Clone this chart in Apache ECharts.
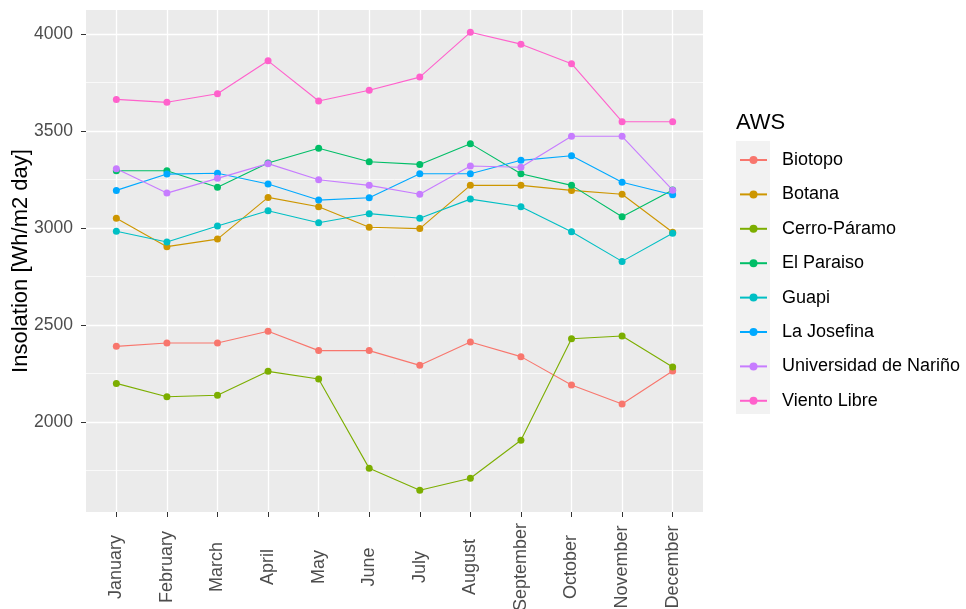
<!DOCTYPE html>
<html>
<head>
<meta charset="utf-8">
<script src="https://cdn.jsdelivr.net/npm/echarts@6/dist/echarts.min.js"></script>
<style>
  html, body { margin: 0; padding: 0; background: #fff; }
  #chart { width: 966px; height: 609px; }
</style>
</head>
<body>
<div id="chart"></div>
<script>
const months = ["January", "February", "March", "April", "May", "June",
  "July", "August", "September", "October", "November", "December"];

const stations = ["Biotopo", "Botana", "Cerro-Páramo", "El Paraiso", "Guapi",
  "La Josefina", "Universidad de Nariño", "Viento Libre"];

const biotopo = [2390, 2407, 2407, 2468, 2368, 2368, 2292, 2412, 2337, 2191, 2093, 2263];
const botana = [3050, 2904, 2943, 3158, 3110, 3004, 2997, 3220, 3220, 3194, 3174, 2978];
const cerroParamo = [2199, 2130, 2138, 2261, 2222, 1761, 1648, 1710, 1906, 2429, 2443, 2284];
const elParaiso = [3295, 3295, 3210, 3335, 3411, 3342, 3328, 3435, 3280, 3220, 3058, 3196];
const guapi = [2983, 2928, 3010, 3089, 3027, 3074, 3050, 3149, 3110, 2981, 2828, 2973];
const laJosefina = [3194, 3278, 3282, 3227, 3144, 3156, 3280, 3280, 3349, 3373, 3236, 3172];
const udenar = [3306, 3180, 3256, 3332, 3249, 3220, 3174, 3320, 3313, 3473, 3473, 3195];
const vientoLibre = [3663, 3648, 3692, 3862, 3655, 3710, 3778, 4009, 3948, 3847, 3548, 3548];

const yMajor = [2000, 2500, 3000, 3500, 4000];
const yMinor = [1750, 2250, 2750, 3250, 3750];

const seriesValues = [biotopo, botana, cerroParamo, elParaiso, guapi, laJosefina, udenar, vientoLibre];
const colors = ["#F8766D", "#CD9600", "#7CAE00", "#00BE67", "#00BFC4", "#00A9FF", "#C77CFF", "#FF61CC"];

const font = "Liberation Sans, Arial, sans-serif";
const monthIdx = months.map((m, i) => i);

const chart = echarts.init(document.getElementById("chart"), null, { renderer: "canvas" });

chart.setOption({
  animation: false,
  color: colors,
  textStyle: { fontFamily: font },
  title: {
    text: "AWS",
    left: 731,
    top: 107,
    textStyle: { fontFamily: font, fontSize: 22, fontWeight: "normal", color: "#000" }
  },
  graphic: [{
    type: "rect",
    left: 736,
    top: 141,
    shape: { width: 34, height: 273 },
    style: { fill: "#f2f2f2" },
    z: -1
  }],
  legend: {
    orient: "vertical",
    left: 734,
    top: 146,
    itemWidth: 27,
    itemHeight: 10,
    itemGap: 16.4,
    textStyle: { fontFamily: font, fontSize: 18, color: "#000", lineHeight: 18, padding: [0, 0, 0, 10] },
    data: stations
  },
  grid: {
    left: 86,
    top: 10,
    right: 263,
    bottom: 97,
    show: true,
    backgroundColor: "#ebebeb",
    borderWidth: 0,
    containLabel: false,
    outerBoundsMode: "none"
  },
  xAxis: {
    type: "value",
    min: -0.6,
    max: 11.6,
    axisLine: { show: false, onZero: false },
    axisTick: { show: true, length: 5, customValues: monthIdx, lineStyle: { color: "#333" } },
    axisLabel: {
      customValues: monthIdx,
      rotate: 90,
      align: "center",
      verticalAlign: "middle",
      margin: 55,
      color: "#4d4d4d",
      fontSize: 18,
      fontFamily: font,
      formatter: (v) => months[Math.round(v)]
    },
    splitLine: { show: true, lineStyle: { color: "#fff", width: 1.3 } }
  },
  yAxis: [{
    type: "value",
    min: 1536,
    max: 4124,
    name: "Insolation [Wh/m2 day]",
    nameLocation: "middle",
    nameGap: 54,
    nameMoveOverlap: false,
    nameTextStyle: { fontFamily: font, fontSize: 22, color: "#000" },
    axisLine: { show: false, onZero: false },
    axisTick: { show: true, length: 5, customValues: yMajor, lineStyle: { color: "#333" } },
    axisLabel: {
      customValues: yMajor,
      color: "#4d4d4d",
      fontSize: 17.5,
      fontFamily: font,
      margin: 13,
      formatter: (v) => String(v)
    },
    splitLine: { show: true, lineStyle: { color: "#fff", width: 1.3 } }
  }, {
    type: "value",
    min: 1536,
    max: 4124,
    position: "left",
    axisLine: { show: false, onZero: false },
    axisTick: { show: false, customValues: yMinor },
    axisLabel: { show: false, customValues: yMinor },
    splitLine: { show: true, lineStyle: { color: "#fff", width: 0.7 } }
  }],
  series: stations.map((name, s) => ({
    name: name,
    type: "line",
    yAxisIndex: 0,
    data: seriesValues[s].map((v, i) => [i, v]),
    symbol: "circle",
    symbolSize: 7,
    lineStyle: { width: 1.1 },
    itemStyle: { color: colors[s] },
    emphasis: { disabled: true }
  }))
});
</script>
</body>
</html>
